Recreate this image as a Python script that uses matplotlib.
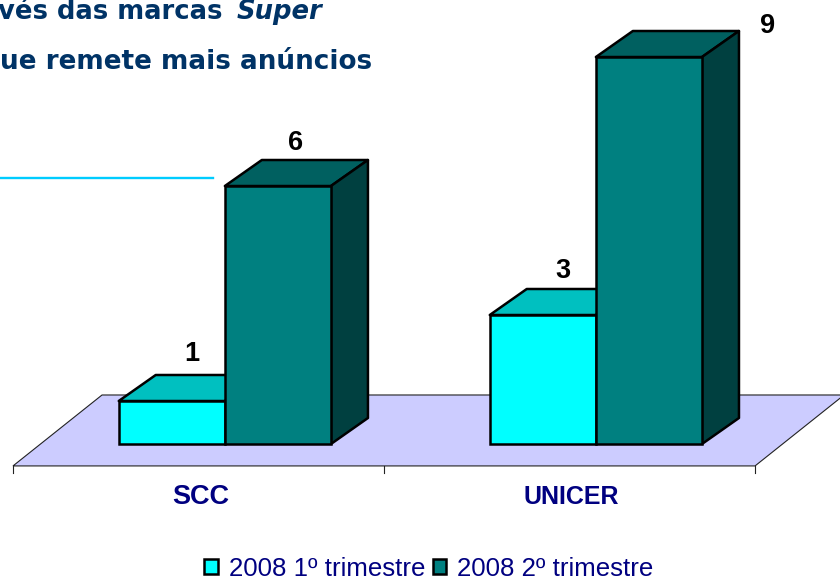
import matplotlib
matplotlib.use("Agg")
import matplotlib.pyplot as plt
from matplotlib.patches import Polygon

categories = ["SCC", "UNICER"]
series_names = ["2008 1º trimestre", "2008 2º trimestre"]
q1_values = [1, 3]
q2_values = [6, 9]
title_line1 = "vés das marcas"
title_italic = "Super"
title_line2 = "ue remete mais anúncios"

# colours: front, top, side
q1_colors = ("#00FFFF", "#00C0C0", "#008080")
q2_colors = ("#008080", "#006060", "#004040")
floor_color = "#CCCCFF"
navy = "#000080"
title_color = "#003366"

# one category = 371 px, one value unit = 43 px
bar_w = 0.286
dx = 0.0997
dy = 0.605
edge_w = 1.8

fig = plt.figure(figsize=(8.4, 5.81), dpi=100)
ax = fig.add_axes([0, 0, 1, 1])
ax.set_xlim(-0.606, 1.658)
ax.set_ylim(-3.186, 10.326)
ax.axis("off")

# floor of the 3d chart
floor_y0 = -0.51
floor_y1 = 1.14
floor_x0 = -0.571
floor_x1 = 1.429
floor_dx = 0.24
ax.add_patch(Polygon([(floor_x0, floor_y0), (floor_x1, floor_y0),
                      (floor_x1 + floor_dx, floor_y1), (floor_x0 + floor_dx, floor_y1)],
                     closed=True, facecolor=floor_color, edgecolor="#222222", lw=0.8, zorder=1))
for k in range(len(categories) + 1):
    ax.plot([floor_x0 + k, floor_x0 + k], [floor_y0, floor_y0 - 0.17], color="#222222", lw=0.8, zorder=1)


def box_3d(x, value, colors, z):
    #top and side faces, the front comes from ax.bar
    top = [(x, value), (x + bar_w, value), (x + bar_w + dx, value + dy), (x + dx, value + dy)]
    side = [(x + bar_w, 0), (x + bar_w + dx, dy), (x + bar_w + dx, value + dy), (x + bar_w, value)]
    ax.add_patch(Polygon(top, closed=True, facecolor=colors[1], edgecolor="black", lw=edge_w, zorder=z, joinstyle="round"))
    ax.add_patch(Polygon(side, closed=True, facecolor=colors[2], edgecolor="black", lw=edge_w, zorder=z, joinstyle="round"))


positions = range(len(categories))
for i in positions:
    box_3d(i - bar_w, q1_values[i], q1_colors, 2)
    box_3d(i, q2_values[i], q2_colors, 4)
bars1 = ax.bar([i - bar_w / 2 for i in positions], q1_values, bar_w, color=q1_colors[0],
               edgecolor="black", lw=edge_w, zorder=3, label=series_names[0])
bars2 = ax.bar([i + bar_w / 2 for i in positions], q2_values, bar_w, color=q2_colors[0],
               edgecolor="black", lw=edge_w, zorder=5, label=series_names[1])

# value labels, the chart moved some of them by hand
q1_label_gap = [1.09, 1.03]
q2_label_gap = [1.0, 0.72]
q2_label_shift = [0.19, 0.464]
for i in positions:
    ax.text(i - 0.09, q1_values[i] + q1_label_gap[i], str(q1_values[i]), ha="center", va="center",
            family="Liberation Sans", weight="bold", fontsize=19.5, color="black", zorder=6)
    ax.text(i + q2_label_shift[i], q2_values[i] + q2_label_gap[i], str(q2_values[i]), ha="center", va="center",
            family="Liberation Sans", weight="bold", fontsize=19.5, color="black", zorder=6)

# category labels
category_sizes = [19.5, 18]
for i, name in enumerate(categories):
    ax.text(i - 0.065, -1.23, name, ha="center", va="center", family="Liberation Sans",
            weight="bold", fontsize=category_sizes[i], color=navy)

leg = ax.legend(handles=[bars1, bars2], loc="center", bbox_to_anchor=(0.5105, 0.0205), ncol=2,
                frameon=False, prop={"family": "Liberation Sans", "size": 18.6},
                labelcolor=navy, handlelength=0.52, handleheight=0.52, handletextpad=0.42,
                columnspacing=0.3, borderpad=0, borderaxespad=0)

# leftover slide text behind the chart, cut by the picture edge
fig.text(223 / 840, 1 - 12 / 581, title_line1, ha="right", va="center", family="DejaVu Sans", weight="bold",
         fontsize=18.6, color=title_color)
fig.text(237 / 840, 1 - 12 / 581, title_italic, ha="left", va="center", family="DejaVu Sans", weight="bold",
         style="italic", fontsize=18.6, color=title_color)
fig.text(0, 1 - 62 / 581, title_line2, ha="left", va="center", family="DejaVu Sans", weight="bold",
         fontsize=18.9, color=title_color)
fig.add_artist(plt.Line2D([0, 213 / 840], [1 - 178 / 581, 1 - 178 / 581], color="#00CCFF", lw=1.7))

fig.savefig("out.png", dpi=100)
